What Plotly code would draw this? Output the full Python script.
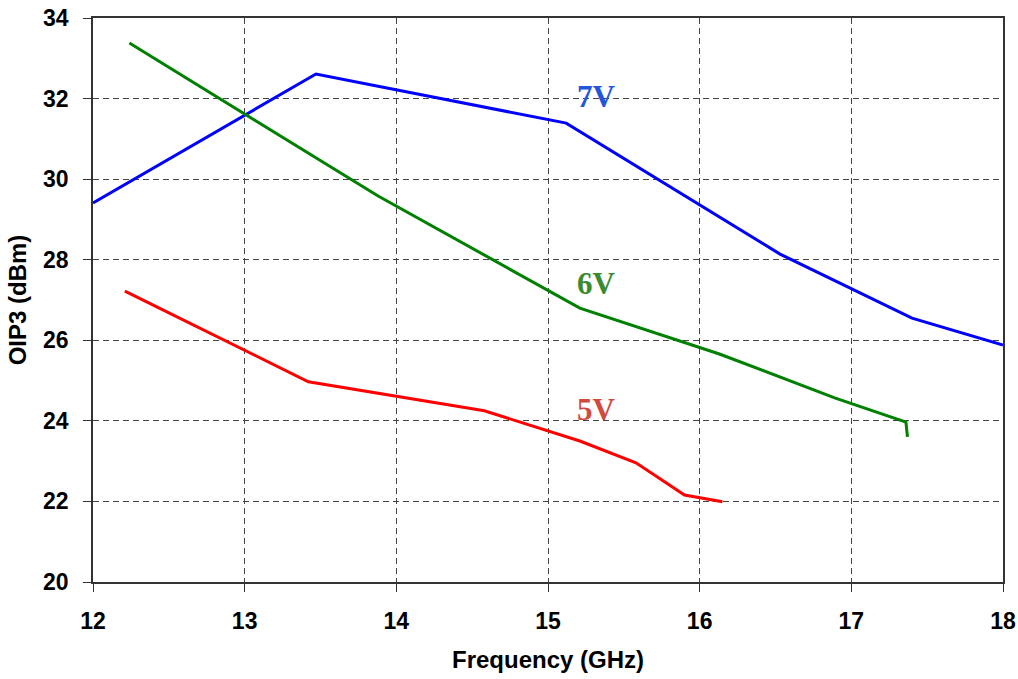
import plotly.graph_objects as go

freq_7v = [12.0, 13.47, 15.12, 16.53, 17.40, 18.0]
oip3_7v = [29.41, 32.61, 31.39, 28.14, 26.55, 25.88]

freq_6v = [12.24, 13.88, 15.21, 16.13, 16.89, 17.36, 17.37]
oip3_6v = [33.38, 29.58, 26.80, 25.66, 24.57, 23.97, 23.60]

freq_5v = [12.21, 13.42, 14.58, 15.21, 15.58, 15.90, 16.15]
oip3_5v = [27.22, 24.97, 24.25, 23.50, 22.96, 22.16, 21.99]

labels = ["7V", "6V", "5V"]
label_x = [15.32, 15.32, 15.32]
label_y = [32.06, 27.42, 24.27]
label_colors = ["#2255dd", "#3a8a2f", "#d04a3f"]

x_ticks = [12, 13, 14, 15, 16, 17, 18]
y_ticks = [20, 22, 24, 26, 28, 30, 32, 34]

fig = go.Figure()
fig.add_trace(go.Scatter(x=freq_7v, y=oip3_7v, mode="lines", line=dict(color="#0000ff", width=3), name="7V"))
fig.add_trace(go.Scatter(x=freq_6v, y=oip3_6v, mode="lines", line=dict(color="#008000", width=3), name="6V"))
fig.add_trace(go.Scatter(x=freq_5v, y=oip3_5v, mode="lines", line=dict(color="#ff0000", width=3), name="5V"))

for t, xx, yy, c in zip(labels, label_x, label_y, label_colors):
    fig.add_annotation(x=xx, y=yy, text="<b>%s</b>" % t, showarrow=False,
                       font=dict(family="Liberation Serif", size=31, color=c),
                       xanchor="center", yanchor="middle")

tick_font = dict(family="Liberation Sans", size=23, color="black")
title_font = dict(family="Liberation Sans", size=24, color="black")
fig.update_layout(
    width=1018, height=679,
    margin=dict(l=93, r=15, t=18, b=97),
    paper_bgcolor="white", plot_bgcolor="white",
    showlegend=False,
    font=dict(family="Liberation Sans", size=17, color="black"),
    xaxis=dict(range=[12, 18], tickvals=x_ticks, ticktext=["<b>%d</b>" % v for v in x_ticks],
               showgrid=True, gridcolor="#444444", gridwidth=1, griddash="6px,4px",
               showline=True, linecolor="#333333", linewidth=1.5, mirror=True,
               ticks="outside", ticklen=8, tickcolor="#333333", tickfont=tick_font,
               ticklabelstandoff=10, zeroline=False, automargin=False,
               ticklabeloverflow="allow",
               title=dict(text="<b>Frequency (GHz)</b>", font=title_font, standoff=18)),
    yaxis=dict(range=[20, 34], tickvals=y_ticks, ticktext=["<b>%d</b>" % v for v in y_ticks],
               showgrid=True, gridcolor="#444444", gridwidth=1, griddash="6px,4px",
               showline=True, linecolor="#333333", linewidth=1.5, mirror=True,
               ticks="outside", ticklen=8, tickcolor="#333333", tickfont=tick_font,
               ticklabelstandoff=10, zeroline=False, automargin=False,
               ticklabeloverflow="allow",
               title=dict(text="<b>OIP3 (dBm)</b>", font=title_font, standoff=10)),
)

fig.write_html(
    "out.html",
    config={"displayModeBar": False},
    post_script="document.body.style.margin='0';document.body.style.overflow='hidden';",
)
